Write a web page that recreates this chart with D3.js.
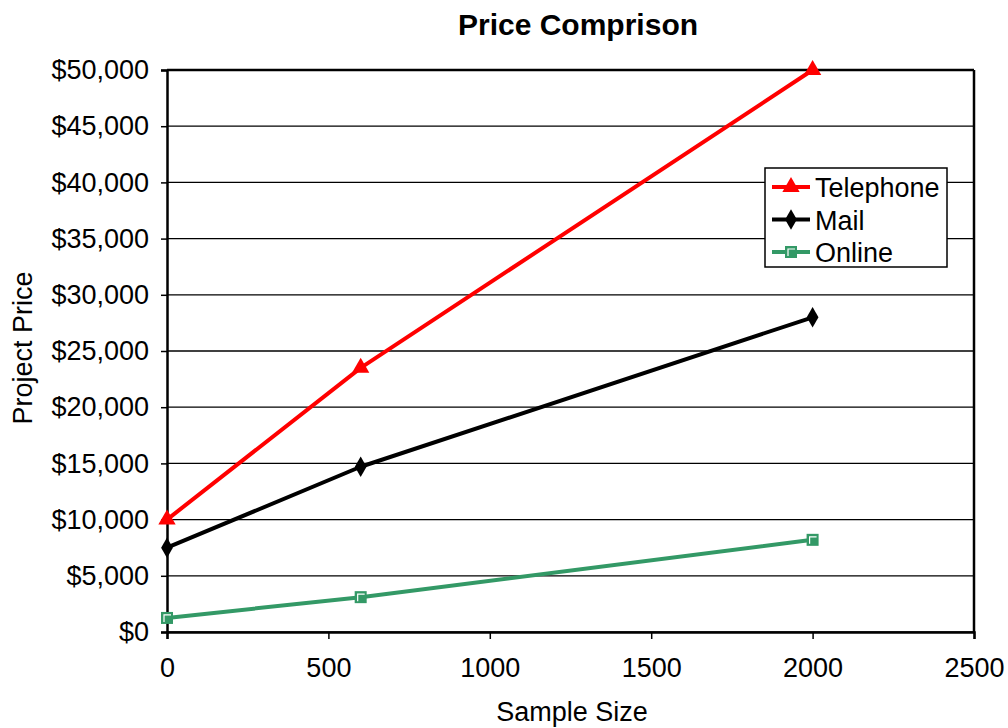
<!DOCTYPE html>
<html><head><meta charset="utf-8">
<script src="https://cdn.jsdelivr.net/npm/d3@7"></script>
<style>body{margin:0;background:#fff}svg{font-family:"Liberation Sans",Arial,sans-serif}</style>
</head><body><svg id="c" width="1008" height="728"></svg>
<script>
const sampleSizes = [0, 600, 2000];
const telephone = [10000, 23500, 50000];
const mail = [7500, 14700, 28000];
const online = [1250, 3100, 8200];
const xTicks = [0, 500, 1000, 1500, 2000, 2500];
const yTicks = [0, 5000, 10000, 15000, 20000, 25000, 30000, 35000, 40000, 45000, 50000];
const seriesNames = ["Telephone", "Mail", "Online"];
const seriesColors = ["#ff0000", "#000000", "#339966"];

const svg = d3.select("#c");
const L = 167, R = 974, T = 70, B = 632;
const x = d3.scaleLinear().domain([0, 2500]).range([L, R]);
const y = d3.scaleLinear().domain([0, 50000]).range([B, T]);

// gridlines
svg.append("g").selectAll("line").data(yTicks).join("line")
  .attr("x1", L).attr("x2", R).attr("y1", d => y(d)).attr("y2", d => y(d))
  .attr("stroke", "#000").attr("stroke-width", 1.3);
// frame
svg.append("line").attr("x1", L).attr("x2", R).attr("y1", T).attr("y2", T).attr("stroke", "#000").attr("stroke-width", 2.5);
svg.append("line").attr("x1", R).attr("x2", R).attr("y1", T).attr("y2", B).attr("stroke", "#000").attr("stroke-width", 2.5);

const fmt = d => "$" + d3.format(",")(d);
const ya = svg.append("g").attr("transform", `translate(${L},0)`)
  .call(d3.axisLeft(y).tickValues(yTicks).tickFormat(fmt).tickSize(6).tickPadding(12));
const xa = svg.append("g").attr("transform", `translate(0,${B})`)
  .call(d3.axisBottom(x).tickValues(xTicks).tickFormat(d3.format("d")).tickSize(7).tickPadding(19));
[ya, xa].forEach(a => {
  a.select(".domain").attr("stroke-width", 2.5);
  a.selectAll(".tick line").attr("stroke-width", 1.5);
  a.selectAll("text").attr("font-size", 27).attr("fill", "#000").attr("font-family", '"Liberation Sans",Arial,sans-serif');
});

const data = [telephone, mail, online];
const line = d3.line().x((d, i) => x(sampleSizes[i])).y(d => y(d));
data.forEach((vals, k) => {
  svg.append("path").datum(vals).attr("d", line).attr("fill", "none")
    .attr("stroke", seriesColors[k]).attr("stroke-width", 4).attr("stroke-linejoin", "round");
});

function marker(g, k, cx, cy) {
  if (k === 0) {
    g.append("path").attr("d", d3.symbol(d3.symbolTriangle, 130)()).attr("transform", `translate(${cx},${cy})`).attr("fill", "#ff0000");
  } else if (k === 1) {
    g.append("path").attr("d", d3.symbol(d3.symbolDiamond, 120)()).attr("transform", `translate(${cx},${cy})`).attr("fill", "#000");
  } else {
    g.append("rect").attr("x", cx - 6).attr("y", cy - 6).attr("width", 12).attr("height", 12).attr("fill", "#339966");
    g.append("path").attr("d", `M${cx-3},${cy+4}V${cy-3}H${cx+4}`).attr("fill", "none").attr("stroke", "#fff").attr("stroke-width", 1.2);
  }
}
const mg = svg.append("g");
data.forEach((vals, k) => vals.forEach((v, i) => marker(mg, k, x(sampleSizes[i]), y(v))));

// legend
const lg = svg.append("g");
lg.append("rect").attr("x", 765).attr("y", 168).attr("width", 182).attr("height", 99)
  .attr("fill", "#fff").attr("stroke", "#000").attr("stroke-width", 1.5);
seriesNames.forEach((n, k) => {
  const ly = 187 + k * 32.5;
  lg.append("line").attr("x1", 772).attr("x2", 810).attr("y1", ly).attr("y2", ly)
    .attr("stroke", seriesColors[k]).attr("stroke-width", 4);
  marker(lg, k, 791, ly);
  lg.append("text").attr("x", 815).attr("y", ly + 10).attr("font-size", 27).text(n);
});

svg.append("text").attr("x", 578).attr("y", 35).attr("text-anchor", "middle")
  .attr("font-size", 30).attr("font-weight", "bold").text("Price Comprison");
svg.append("text").attr("x", 572).attr("y", 721).attr("text-anchor", "middle")
  .attr("font-size", 27).text("Sample Size");
svg.append("text").attr("transform", "translate(32,348) rotate(-90)").attr("text-anchor", "middle")
  .attr("font-size", 27).text("Project Price");
</script></body></html>
